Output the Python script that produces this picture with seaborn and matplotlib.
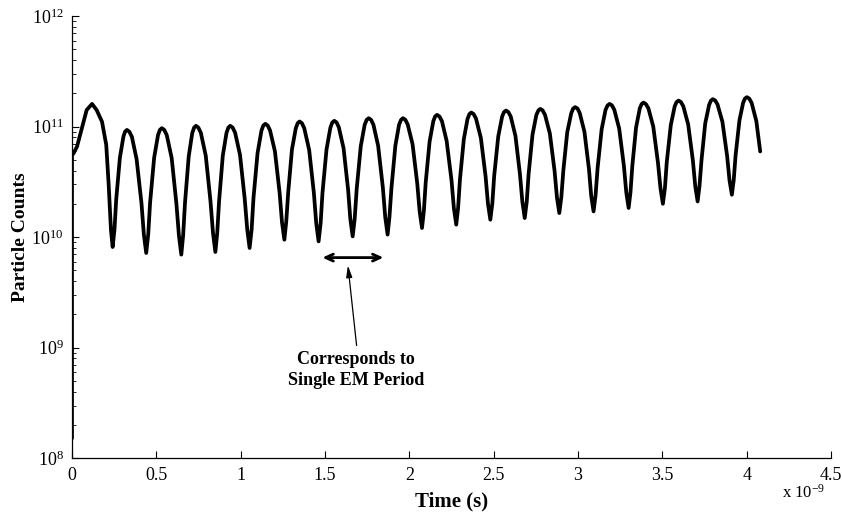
import numpy as np
import pandas as pd
import seaborn as sns
import matplotlib.pyplot as plt
from matplotlib.ticker import LogLocator, FixedLocator, NullFormatter

# time in units of 1e-9 s, particle counts as log10 values
time_ns = [
    0.000, 0.000, 0.010, 0.030, 0.069, 0.087, 0.119, 0.146, 0.178, 0.203, 0.217, 0.231, 0.241,
    0.252, 0.262, 0.284, 0.305, 0.315, 0.326,
    0.340, 0.355, 0.383, 0.412, 0.426, 0.440, 0.452, 0.463, 0.487, 0.510, 0.521, 0.533,
    0.547, 0.562, 0.591, 0.619, 0.634, 0.648, 0.659, 0.670, 0.692, 0.713, 0.724, 0.735,
    0.749, 0.764, 0.793, 0.821, 0.836, 0.850, 0.861, 0.872, 0.894, 0.916, 0.927, 0.938,
    0.952, 0.967, 0.996, 1.024, 1.039, 1.053, 1.065, 1.076, 1.100, 1.123, 1.134, 1.146,
    1.160, 1.174, 1.203, 1.231, 1.245, 1.259, 1.270, 1.282, 1.304, 1.327, 1.338, 1.349,
    1.363, 1.377, 1.406, 1.434, 1.448, 1.462, 1.474, 1.485, 1.509, 1.532, 1.543, 1.555,
    1.569, 1.582, 1.610, 1.637, 1.650, 1.664, 1.676, 1.688, 1.712, 1.735, 1.747, 1.759,
    1.773, 1.787, 1.815, 1.843, 1.857, 1.871, 1.882, 1.894, 1.917, 1.939, 1.951, 1.962,
    1.976, 1.990, 2.019, 2.047, 2.061, 2.075, 2.086, 2.097, 2.120, 2.142, 2.153, 2.164,
    2.178, 2.193, 2.221, 2.250, 2.264, 2.278, 2.289, 2.300, 2.323, 2.345, 2.356, 2.367,
    2.381, 2.395, 2.424, 2.452, 2.466, 2.480, 2.492, 2.503, 2.527, 2.550, 2.561, 2.573,
    2.587, 2.601, 2.629, 2.656, 2.670, 2.684, 2.696, 2.707, 2.730, 2.753, 2.765, 2.776,
    2.790, 2.804, 2.833, 2.861, 2.875, 2.889, 2.901, 2.913, 2.936, 2.960, 2.971, 2.983,
    2.997, 3.010, 3.038, 3.065, 3.078, 3.092, 3.104, 3.116, 3.140, 3.163, 3.175, 3.187,
    3.201, 3.215, 3.244, 3.272, 3.286, 3.300, 3.311, 3.322, 3.344, 3.366, 3.377, 3.388,
    3.402, 3.417, 3.446, 3.474, 3.489, 3.503, 3.515, 3.526, 3.550, 3.573, 3.584, 3.596,
    3.610, 3.624, 3.653, 3.681, 3.695, 3.709, 3.720, 3.732, 3.754, 3.777, 3.788, 3.799,
    3.813, 3.827, 3.856, 3.884, 3.898, 3.912, 3.923, 3.934, 3.957, 3.979, 3.990, 4.001,
    4.015, 4.029, 4.057, 4.080,
]
log_counts = [
    8.18, 10.74, 10.76, 10.82, 11.044, 11.15, 11.205, 11.15, 11.044, 10.835, 10.487, 10.065, 9.911,
    10.070, 10.338, 10.719, 10.911, 10.955, 10.970,
    10.954, 10.908, 10.706, 10.306, 10.024, 9.857, 10.026, 10.312, 10.718, 10.923, 10.970, 10.986,
    10.970, 10.922, 10.715, 10.303, 10.014, 9.842, 10.017, 10.311, 10.731, 10.942, 10.991, 11.007,
    10.991, 10.943, 10.737, 10.326, 10.037, 9.866, 10.037, 10.326, 10.737, 10.943, 10.991, 11.007,
    10.992, 10.945, 10.745, 10.347, 10.068, 9.902, 10.070, 10.355, 10.759, 10.962, 11.009, 11.025,
    11.010, 10.966, 10.777, 10.399, 10.134, 9.977, 10.137, 10.408, 10.793, 10.986, 11.031, 11.046,
    11.031, 10.985, 10.789, 10.399, 10.125, 9.962, 10.126, 10.401, 10.794, 10.991, 11.037, 11.052,
    11.037, 10.993, 10.804, 10.428, 10.164, 10.007, 10.167, 10.438, 10.823, 11.016, 11.061, 11.076,
    11.061, 11.017, 10.826, 10.447, 10.181, 10.023, 10.181, 10.447, 10.826, 11.017, 11.061, 11.076,
    11.062, 11.020, 10.841, 10.483, 10.232, 10.083, 10.236, 10.495, 10.864, 11.049, 11.092, 11.106,
    11.092, 11.050, 10.871, 10.513, 10.262, 10.113, 10.265, 10.522, 10.887, 11.070, 11.113, 11.127,
    11.113, 11.073, 10.897, 10.549, 10.303, 10.158, 10.306, 10.556, 10.911, 11.090, 11.131, 11.145,
    11.131, 11.091, 10.915, 10.565, 10.319, 10.173, 10.321, 10.571, 10.926, 11.105, 11.146, 11.160,
    11.147, 11.107, 10.937, 10.598, 10.359, 10.218, 10.362, 10.604, 10.949, 11.122, 11.163, 11.176,
    11.163, 11.123, 10.953, 10.613, 10.374, 10.233, 10.379, 10.625, 10.975, 11.151, 11.191, 11.205,
    11.192, 11.152, 10.982, 10.643, 10.405, 10.264, 10.407, 10.648, 10.991, 11.164, 11.204, 11.217,
    11.204, 11.166, 11.000, 10.671, 10.439, 10.302, 10.442, 10.678, 11.014, 11.183, 11.222, 11.235,
    11.222, 11.184, 11.019, 10.691, 10.460, 10.323, 10.462, 10.696, 11.029, 11.196, 11.235, 11.248,
    11.236, 11.200, 11.043, 10.732, 10.514, 10.384, 10.516, 10.739, 11.057, 11.217, 11.254, 11.266,
    11.253, 11.215, 11.050, 10.775,
]
x_ticks = [0, 0.5, 1, 1.5, 2, 2.5, 3, 3.5, 4, 4.5]
x_tick_labels = ["0", "0.5", "1", "1.5", "2", "2.5", "3", "3.5", "4", "4.5"]

# annotation: one EM period span
period_span = [1.468, 1.863]
period_level = 9.815
note_xy = (1.683, 8.80)

df = pd.DataFrame({"time": time_ns, "counts": np.power(10.0, log_counts)})

sns.set_style("ticks")
plt.rcParams['font.family'] = ['Liberation Serif', 'DejaVu Serif']
plt.rcParams['mathtext.fontset'] = 'stix'
plt.rcParams['mathtext.default'] = 'regular'
plt.rcParams['text.color'] = 'black'
plt.rcParams['axes.labelcolor'] = 'black'

fig = plt.figure(figsize=(8.42, 5.2), dpi=100)
ax = fig.add_axes([0.0855, 0.1187, 0.9015, 0.8505])

sns.lineplot(data=df, x="time", y="counts", sort=False, estimator=None,
             color="black", linewidth=2.7, solid_joinstyle="round", ax=ax)

ax.set_yscale("log")
ax.set_xlim(0, 4.5)
ax.set_ylim(1e8, 1e12)
ax.xaxis.set_major_locator(FixedLocator(x_ticks))
ax.set_xticklabels(x_tick_labels)
ax.yaxis.set_major_locator(LogLocator(base=10, numticks=10))
ax.yaxis.set_minor_locator(LogLocator(base=10, subs=np.arange(2, 10), numticks=20))
ax.yaxis.set_minor_formatter(NullFormatter())
ax.tick_params(axis="both", which="major", direction="in", length=5, width=0.8,
               labelsize=13, pad=6, colors="black")
ax.tick_params(axis="y", which="minor", direction="in", length=3, width=0.6,
               colors="black")
sns.despine(ax=ax)
for s in ["left", "bottom"]:
    ax.spines[s].set_linewidth(0.9)
    ax.spines[s].set_color("black")

ax.set_xlabel("Time (s)", fontsize=15, fontweight="bold", color="black")
ax.set_ylabel("Particle Counts", fontsize=14, fontweight="bold", color="black")
ax.xaxis.set_label_coords(0.5, -0.075)
ax.yaxis.set_label_coords(-0.056, 0.5)
ax.text(0.964, -0.078, r"x $10^{-9}$", transform=ax.transAxes, ha="center",
        va="center", fontsize=12, color="black")

# period arrow and label
ax.annotate("", xy=(period_span[0], 10 ** period_level),
            xytext=(period_span[1], 10 ** period_level),
            arrowprops=dict(arrowstyle="<->,head_length=0.55,head_width=0.25",
                            lw=2, color="black"))
ax.annotate("", xy=(1.634, 10 ** 9.769), xytext=(1.689, 10 ** 8.995),
            arrowprops=dict(arrowstyle="-|>,head_length=0.7,head_width=0.18",
                            lw=0.9, color="black"))
ax.text(note_xy[0], 10 ** note_xy[1], "Corresponds to\nSingle EM Period",
        ha="center", va="center", fontsize=13, fontweight="bold",
        multialignment="center", linespacing=1.3, color="black")

fig.savefig("out.png", dpi=100)
